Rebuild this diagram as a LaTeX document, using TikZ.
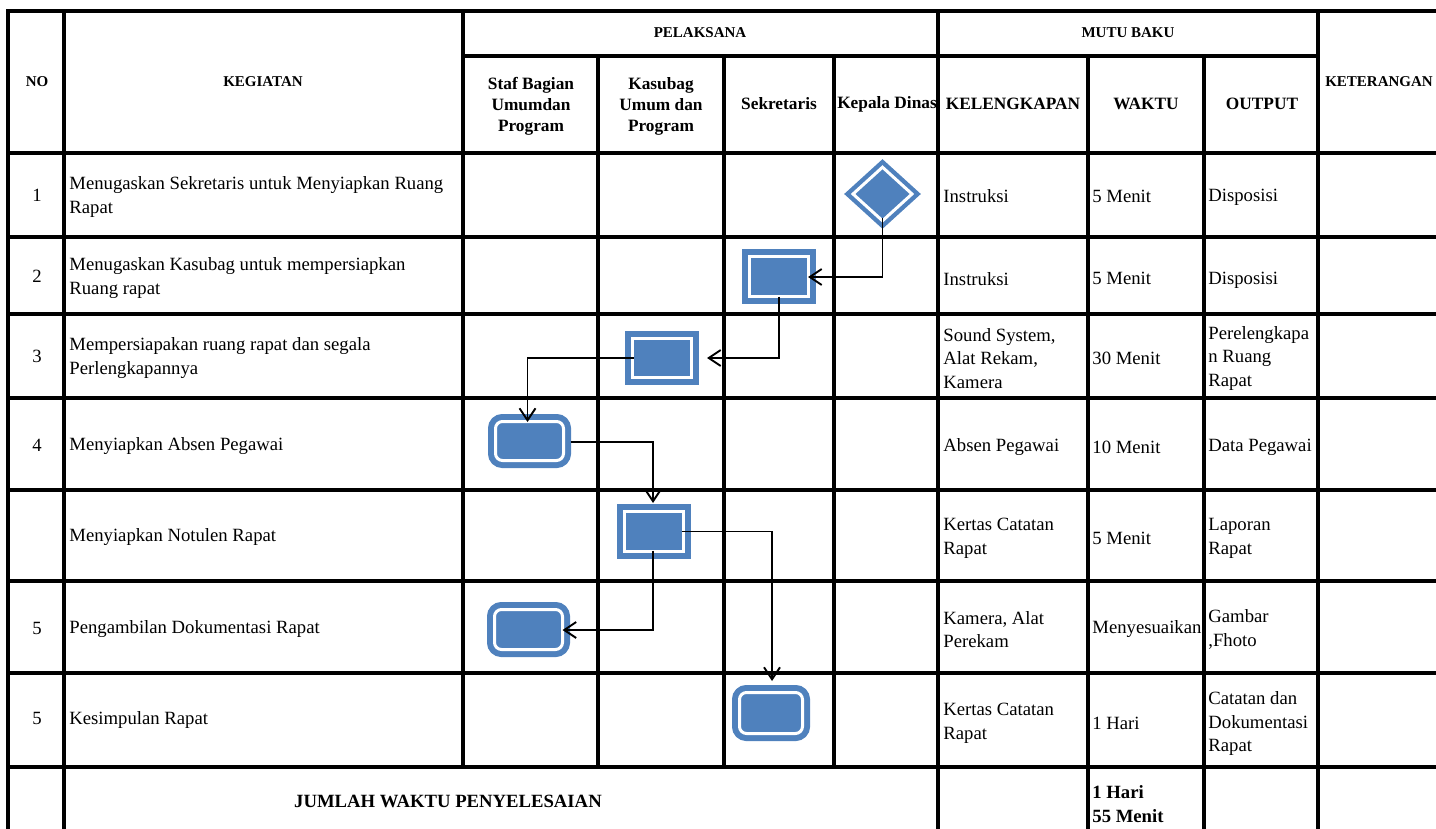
\documentclass[tikz,border=0pt]{standalone}
\usepackage{fontspec}
\setmainfont{Liberation Serif}
\usetikzlibrary{calc,arrows.meta,shapes.geometric}
\definecolor{boxblue}{RGB}{79,129,189}
\tikzset{
  grid/.style={line width=1.7pt, line cap=rect},
  body/.style={font=\fontsize{9.35}{11.8}\selectfont, inner sep=0pt, align=left, yshift=-0.75pt},
  bodyc/.style={font=\fontsize{9.35}{11.8}\selectfont, inner sep=0pt, align=center},
  hdr/.style={font=\fontsize{7.5}{9}\selectfont\bfseries, inner sep=0pt},
  sub/.style={font=\fontsize{8.65}{10.5}\selectfont\bfseries, inner sep=0pt, align=center},
  tot/.style={font=\fontsize{9.35}{11.8}\selectfont\bfseries, inner sep=0pt, align=left},
  proc/.style={rectangle, fill=boxblue, draw=boxblue, double=white, double distance=1.5pt, line width=3pt, inner sep=0pt},
  rproc/.style={proc, rounded corners=3.5pt},
  dec/.style={diamond, fill=boxblue, inner sep=0pt, minimum width=38.5pt, minimum height=35pt},
  conn/.style={line width=0.95pt, -{Straight Barb[length=6pt,width=8pt]}}
}
\begin{document}
\begin{tikzpicture}[x=0.5pt,y=-0.5pt]
\useasboundingbox (0,0) rectangle (1436,829);
% ---------- grid ----------
\draw[grid] (8,11) -- (1436,11);
\draw[grid] (463,56) -- (1318,56);
\foreach \yy in {153,237,314,398,490,581,673,767} \draw[grid] (8,\yy) -- (1436,\yy);
\draw[grid] (8,11) -- (8,829);
\draw[grid] (64,11) -- (64,829);
\draw[grid] (463,11) -- (463,767);
\foreach \xx in {598,724,834} \draw[grid] (\xx,56) -- (\xx,767);
\draw[grid] (938,11) -- (938,829);
\foreach \xx in {1088,1204} \draw[grid] (\xx,56) -- (\xx,829);
\draw[grid] (1318,11) -- (1318,829);
% ---------- header ----------
\node[hdr] (hno) at (37,82) {NO};
\node[hdr] (hkeg) at (263,82) {KEGIATAN};
\node[hdr] (hpel) at (700,33) {PELAKSANA};
\node[hdr] (hmutu) at (1128,33) {MUTU BAKU};
\node[hdr] (hket) at (1379,82) {KETERANGAN};
\node[sub] (hstaf) at (531,106) {Staf Bagian\\Umumdan\\Program};
\node[sub] (hkas) at (661,106) {Kasubag\\Umum dan\\Program};
\node[sub] (hsek) at (779,104) {Sekretaris};
\node[sub] (hkep) at (887,104) {Kepala Dinas};
\node[sub] (hkel) at (1013,104) {KELENGKAPAN};
\node[sub] (hwak) at (1146,104) {WAKTU};
\node[sub] (hout) at (1262,104) {OUTPUT};
% ---------- numbers ----------
\node[bodyc] (n1) at (37,195) {1};
\node[bodyc] (n2) at (37,276) {2};
\node[bodyc] (n3) at (37,356) {3};
\node[bodyc] (n4) at (37,445) {4};
\node[bodyc] (n6) at (37,628) {5};
\node[bodyc] (n7) at (37,718) {5};
% ---------- kegiatan ----------
\node[body,anchor=west] (k1) at (69,195.5) {Menugaskan Sekretaris untuk Menyiapkan Ruang\\Rapat};
\node[body,anchor=west] (k2) at (69,276.5) {Menugaskan Kasubag untuk mempersiapkan\\Ruang rapat};
\node[body,anchor=west] (k3) at (69,356.5) {Mempersiapakan ruang rapat dan segala\\Perlengkapannya};
\node[body,anchor=west] (k4) at (69,445) {Menyiapkan Absen Pegawai};
\node[body,anchor=west] (k5) at (69,536) {Menyiapkan Notulen Rapat};
\node[body,anchor=west] (k6) at (69,628) {Pengambilan Dokumentasi Rapat};
\node[body,anchor=west] (k7) at (69,718) {Kesimpulan Rapat};
% ---------- kelengkapan ----------
\node[body,anchor=west] (l1) at (943,195) {Instruksi};
\node[body,anchor=west] (l2) at (943,278) {Instruksi};
\node[body,anchor=west] (l3) at (943,357) {Sound System,\\Alat Rekam,\\Kamera};
\node[body,anchor=west] (l4) at (943,446) {Absen Pegawai};
\node[body,anchor=west] (l5) at (943,537) {Kertas Catatan\\Rapat};
\node[body,anchor=west] (l6) at (943,628) {Kamera, Alat\\Perekam};
\node[body,anchor=west] (l7) at (943,722) {Kertas Catatan\\Rapat};
% ---------- waktu ----------
\node[body,anchor=west] (w1) at (1092,195) {5 Menit};
\node[body,anchor=west] (w2) at (1092,277) {5 Menit};
\node[body,anchor=west] (w3) at (1092,357) {30 Menit};
\node[body,anchor=west] (w4) at (1092,446) {10 Menit};
\node[body,anchor=west] (w5) at (1092,537) {5 Menit};
\node[body,anchor=west] (w6) at (1092,628) {Menyesuaikan};
\node[body,anchor=west] (w7) at (1092,722) {1 Hari};
% ---------- output ----------
\node[body,anchor=west] (o1) at (1208,196) {Disposisi};
\node[body,anchor=west] (o2) at (1208,279) {Disposisi};
\node[body,anchor=west] (o3) at (1208,357) {Perelengkapa\\n Ruang\\Rapat};
\node[body,anchor=west] (o4) at (1208,446) {Data Pegawai};
\node[body,anchor=west] (o5) at (1208,537) {Laporan\\Rapat};
\node[body,anchor=west] (o6) at (1208,628) {Gambar\\,Fhoto};
\node[body,anchor=west] (o7) at (1208,722) {Catatan dan\\Dokumentasi\\Rapat};
% ---------- total ----------
\node[tot] (jt) at (448,801) {JUMLAH WAKTU PENYELESAIAN};
\node[tot,anchor=west] (jw) at (1092,804) {1 Hari\\55 Menit};
% ---------- shapes ----------
\node[dec] (d1) at (882.5,194) {};
\draw[white, line width=1.5pt, line join=miter] ($(d1.center)+(-29.5,0)$) -- ($(d1.center)+(0,-26.8)$) -- ($(d1.center)+(29.5,0)$) -- ($(d1.center)+(0,26.8)$) -- cycle;
\node[proc, minimum width=29.5pt, minimum height=20pt] (r2) at (779,276.5) {};
\node[proc, minimum width=29.5pt, minimum height=19.5pt] (r3) at (662,358) {};
\node[rproc, minimum width=34pt, minimum height=19.5pt] (rr4) at (529.5,441) {};
\node[proc, minimum width=29.5pt, minimum height=20pt] (r5) at (654,531.5) {};
\node[rproc, minimum width=34pt, minimum height=20pt] (rr6) at (528.5,629.5) {};
\node[rproc, minimum width=31.5pt, minimum height=20.5pt] (rr7) at (771,713) {};
% ---------- connectors ----------
\draw[conn] ($(d1.center)+(0,24)$) |- ($(r2.center)+(29,0.5)$);
\draw[conn] ($(r2.center)+(0,20)$) |- ($(r3.center)+(45,0)$);
\draw[conn] ($(r3.center)+(-28,0)$) -| ($(rr4.center)+(-2,-19)$);
\draw[conn] ($(rr4.center)+(41,1)$) -| ($(r5.center)+(-1,-28.5)$);
\draw[conn] ($(r5.center)+(-1,19)$) |- ($(rr6.center)+(34,0.5)$);
\draw[conn] ($(r5.center)+(28,0)$) -| ($(rr7.center)+(1,-32)$);
\end{tikzpicture}
\end{document}
